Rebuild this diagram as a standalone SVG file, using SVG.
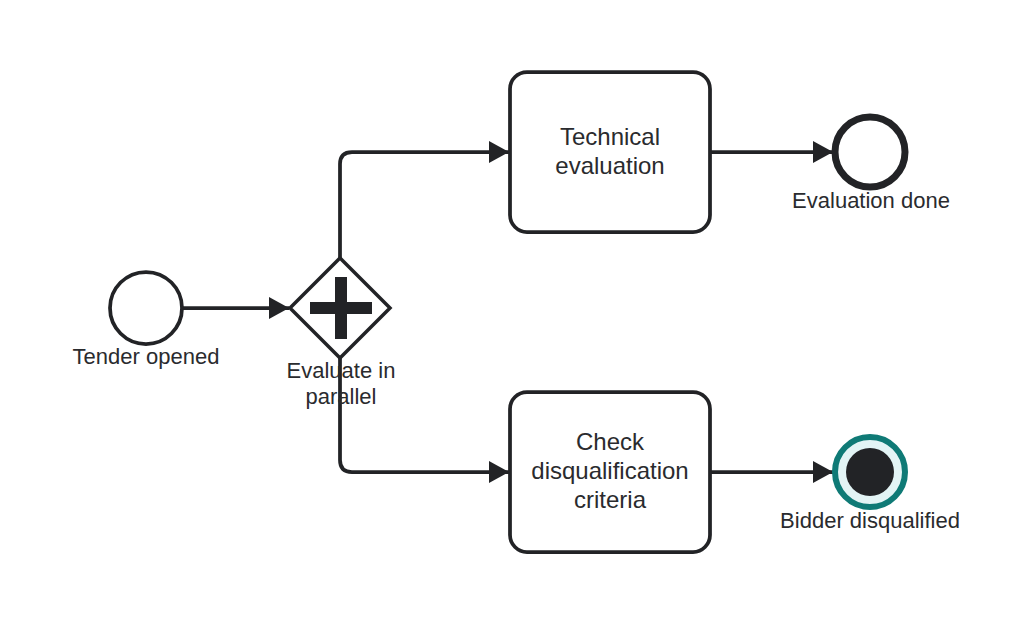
<svg xmlns="http://www.w3.org/2000/svg" width="1032" height="624" viewBox="0 0 1032 624">
<style>
.ln{fill:none;stroke:#222326;stroke-width:3.75;stroke-linejoin:round}
.task{fill:#fff;stroke:#222326;stroke-width:3.75}
.t{font-family:"Liberation Sans",Arial,sans-serif;fill:#2a2b2e;text-anchor:middle}
.tl{font-size:24px}
.el{font-size:22px}
</style>
<defs>
<marker id="arr" markerWidth="22" markerHeight="22" refX="20" refY="11" orient="auto" markerUnits="userSpaceOnUse">
<path d="M0,0 L20,11 L0,22 Z" fill="#222326"/>
</marker>
</defs>
<rect width="1032" height="624" fill="#fff"/>
<g id="connectors">
<path class="ln" d="M182,308 L289,308" marker-end="url(#arr)"/>
<path class="ln" d="M340,258 L340,164 Q340,152 352,152 L509,152" marker-end="url(#arr)"/>
<path class="ln" d="M340,358 L340,460 Q340,472 352,472 L509,472" marker-end="url(#arr)"/>
<path class="ln" d="M710,152 L833,152" marker-end="url(#arr)"/>
<path class="ln" d="M710,472 L833,472" marker-end="url(#arr)"/>
</g>
<g id="start">
<circle cx="146" cy="308" r="36" fill="#fff" stroke="#222326" stroke-width="3.75"/>
<text class="t el" x="146" y="364">Tender opened</text>
</g>
<g id="gateway">
<path d="M340,258 L390,308 L340,358 L290,308 Z" fill="#fff" stroke="#222326" stroke-width="3.5" stroke-linejoin="miter"/>
<rect x="335" y="277" width="12" height="62" fill="#222326"/>
<rect x="310" y="302" width="62" height="12" fill="#222326"/>
<text class="t el" x="341" y="378">Evaluate in</text>
<text class="t el" x="341" y="404">parallel</text>
</g>
<g id="task1">
<rect class="task" x="510" y="72" width="200" height="160" rx="17"/>
<text class="t tl" x="610" y="145">Technical</text>
<text class="t tl" x="610" y="174">evaluation</text>
</g>
<g id="task2">
<rect class="task" x="510" y="392" width="200" height="160" rx="17"/>
<text class="t tl" x="610" y="450">Check</text>
<text class="t tl" x="610" y="479">disqualification</text>
<text class="t tl" x="610" y="508">criteria</text>
</g>
<g id="end1">
<circle cx="870" cy="152" r="35" fill="#fff" stroke="#222326" stroke-width="7"/>
<text class="t el" x="871" y="208">Evaluation done</text>
</g>
<g id="end2">
<circle cx="870" cy="472" r="35" fill="#e3f4f5" stroke="#0f7a76" stroke-width="6"/>
<circle cx="870" cy="472" r="24" fill="#222326"/>
<text class="t el" x="870" y="528">Bidder disqualified</text>
</g>
</svg>
